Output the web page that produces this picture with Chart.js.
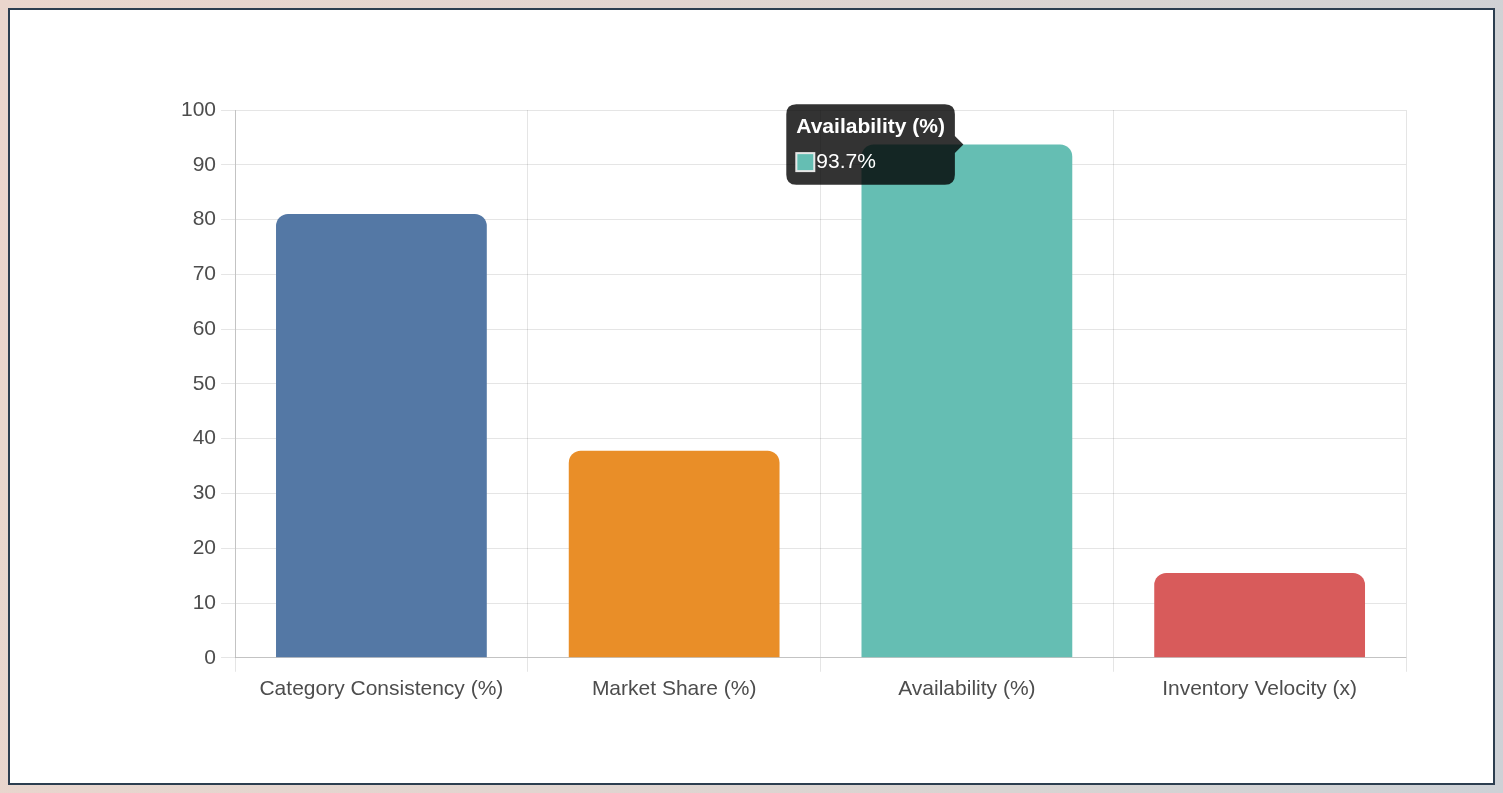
<!DOCTYPE html>
<html>
<head>
<meta charset="utf-8">
<script src="https://cdn.jsdelivr.net/npm/chart.js@4.4.1/dist/chart.umd.min.js"></script>
<style>
  html, body { margin: 0; padding: 0; width: 1503px; height: 793px; overflow: hidden; }
  body { background: linear-gradient(100deg, #ead6cd 0%, #e2d5d0 40%, #d8d4d2 70%, #cdd1d6 100%); position: relative; }
  #box { position: absolute; left: 8px; top: 8px; width: 1483px; height: 773px; background: #fff; border: 2px solid #2c3e50; }
  #wrap { position: absolute; left: 0; top: 0; width: 1483px; height: 773px; }
</style>
</head>
<body>
<div id="box"><div id="wrap"><canvas id="c"></canvas></div></div>
<script>
const categories = ['Category Consistency (%)', 'Market Share (%)', 'Availability (%)', 'Inventory Velocity (x)'];
const values = [81.0, 37.8, 93.7, 15.5];
const barColors = ['#5478a5', '#e98e28', '#65beb3', '#d85b5b'];
const valueSuffix = ['%', '%', '%', 'x'];
const yTicks = { min: 0, max: 100, step: 10 };
const activeIndex = 2;

const FONT = "'Liberation Sans', Arial, sans-serif";
Chart.defaults.font.family = FONT;
Chart.defaults.color = '#4d4d4d';

const chart = new Chart(document.getElementById('c'), {
  type: 'bar',
  data: {
    labels: categories,
    datasets: [{
      data: values,
      backgroundColor: barColors,
      hoverBackgroundColor: barColors,
      borderWidth: 0,
      borderRadius: 12,
      borderSkipped: 'start'
    }]
  },
  options: {
    responsive: true,
    maintainAspectRatio: false,
    animation: false,
    layout: { padding: { left: 166, right: 87, top: 100, bottom: 76 } },
    plugins: {
      legend: { display: false },
      tooltip: {
        backgroundColor: 'rgba(0,0,0,0.8)',
        titleFont: { size: 21, weight: 'bold', family: FONT },
        bodyFont: { size: 21, family: FONT },
        titleMarginBottom: 10,
        padding: 10,
        caretSize: 8.5,
        caretPadding: 3.5,
        cornerRadius: 10,
        boxWidth: 18,
        boxHeight: 18,
        callbacks: {
          title: (items) => categories[items[0].dataIndex],
          label: (item) => values[item.dataIndex].toFixed(1) + valueSuffix[item.dataIndex],
          labelColor: (item) => ({ borderColor: 'rgba(230,230,230,1)', backgroundColor: barColors[item.dataIndex], borderWidth: 2 })
        }
      }
    },
    scales: {
      x: {
        grid: { color: 'rgba(0,0,0,0.1)', tickLength: 14 },
        border: { color: 'rgba(0,0,0,0.15)' },
        ticks: { font: { size: 21 }, padding: 5 }
      },
      y: {
        min: yTicks.min, max: yTicks.max,
        grid: { color: 'rgba(0,0,0,0.1)', tickLength: 14 },
        border: { color: 'rgba(0,0,0,0.15)' },
        ticks: { stepSize: yTicks.step, font: { size: 21 }, padding: 5 }
      }
    }
  }
});

const meta = chart.getDatasetMeta(0);
const el = meta.data[activeIndex];
chart.tooltip.setActiveElements([{ datasetIndex: 0, index: activeIndex }], { x: el.x, y: el.y });
chart.update();
</script>
</body>
</html>
